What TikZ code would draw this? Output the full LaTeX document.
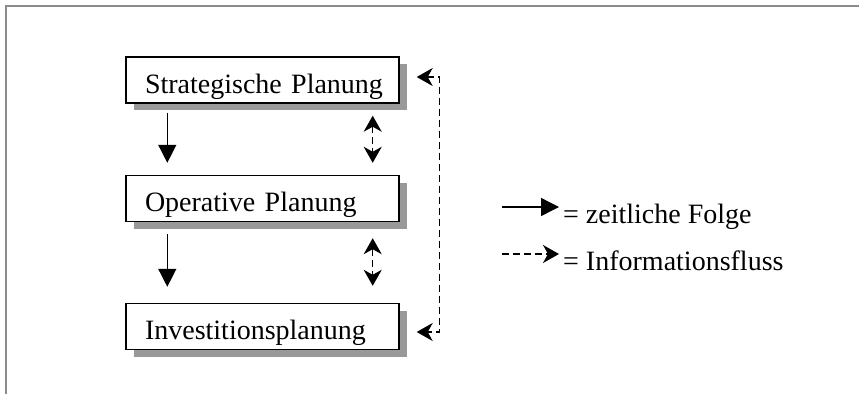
\documentclass[tikz,border=0pt]{standalone}
\usepackage{fontspec}
\setmainfont{Liberation Serif}
\usetikzlibrary{arrows.meta,calc,shadows}
\begin{document}
\begin{tikzpicture}[x=1pt,y=-1pt,
  font=\fontsize{28}{33}\selectfont,
  planbox/.style={draw=black, line width=1.4pt, fill=white,
    text width=235pt, inner xsep=19pt, inner ysep=0pt,
    text height=36pt, text depth=10pt, align=left,
    drop shadow={shadow xshift=8pt, shadow yshift=-7pt, fill=black!40, opacity=1}},
  seqarr/.style={line width=1.4pt, -{Triangle[width=18pt,length=18pt]}},
  infoarr/.style={line width=1.5pt, dash pattern=on 7pt off 4pt},
  infodbl/.style={{Stealth[width=18pt,length=16pt,inset=5pt]}-{Stealth[width=18pt,length=16pt,inset=5pt]}},
  infoone/.style={-{Stealth[width=18pt,length=16pt,inset=5pt]}},
  frameline/.style={draw=black!45, line width=1.5pt}
]
\useasboundingbox (0,0) rectangle (859,394);
\draw[frameline] (859,6) -- (6,6) -- (6,394);

\node[planbox] (b1) at (262.5,80) {\mbox{Strategische Planung}};
\node[planbox] (b2) at (262.5,198.5) {\mbox{Operative Planung}};
\node[planbox] (b3) at (262.5,326.5) {\mbox{Investitionsplanung}};

% zeitliche Folge
\draw[seqarr] ($(b1.south west)+(42,9)$) -- ($(b2.north west)+(42,-12)$);
\draw[seqarr] ($(b2.south west)+(42,12)$) -- ($(b3.north west)+(42,-16)$);

% Informationsfluss between neighbours
\draw[infoarr, infodbl] ($(b1.south east)+(-27,12)$) -- ($(b2.north east)+(-27,-12)$);
\draw[infoarr, infodbl] ($(b2.south east)+(-27,16)$) -- ($(b3.north east)+(-27,-17)$);

% feedback
\draw[infoarr, infodbl] ($(b1.east)+(17,-3)$) -| ($(b3.east)+(40,5.5)$) -- ($(b3.east)+(17,5.5)$);

% legend
\node[anchor=base west, inner sep=0pt] (l1) at (563,223) {= zeitliche Folge};
\node[anchor=base west, inner sep=0pt] (l2) at (563,270) {= Informationsfluss};
\draw[seqarr] ($(l1.base west)+(-61,-16)$) -- ($(l1.base west)+(-4,-16)$);
\draw[infoarr, infoone] ($(l2.base west)+(-61,-16)$) -- ($(l2.base west)+(-4,-16)$);
\end{tikzpicture}
\end{document}
